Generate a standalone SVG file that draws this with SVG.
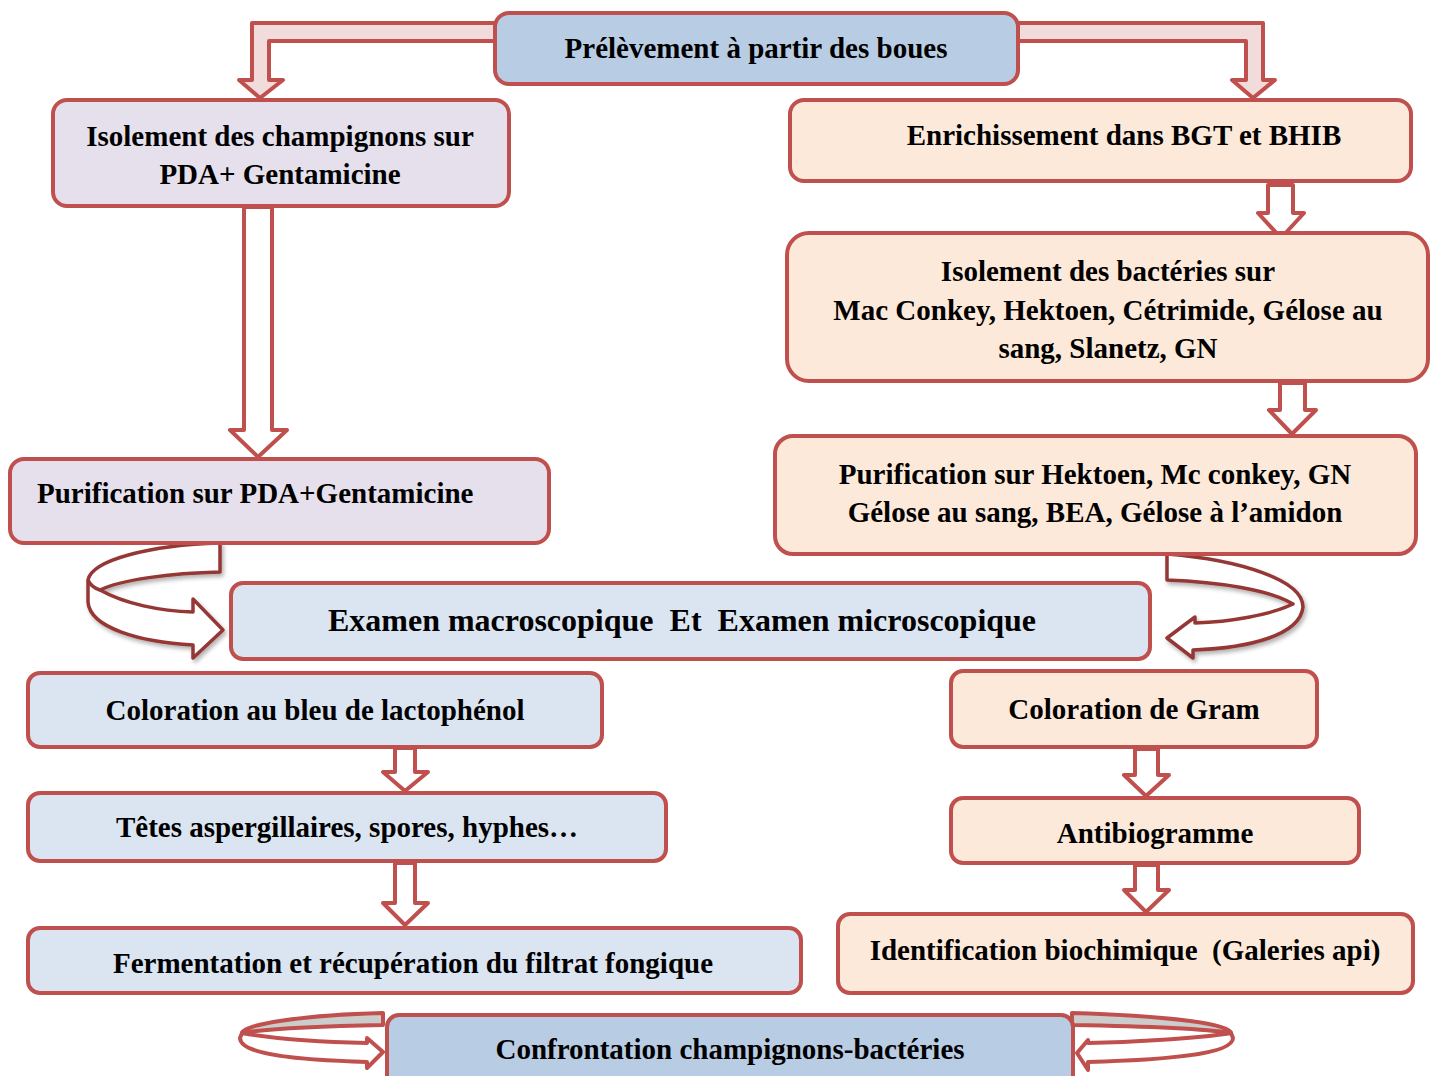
<svg xmlns="http://www.w3.org/2000/svg" width="1438" height="1076" viewBox="0 0 1438 1076">
<style>
.box{stroke:#c0504d;stroke-width:4}
.blue{fill:#b8cce4}
.lav{fill:#e5e0ec}
.peach{fill:#fde9d9}
.lblue{fill:#dbe5f1}
.t{font-family:"Liberation Serif","Times New Roman",serif;font-weight:bold;font-size:29px;fill:#000;text-anchor:middle;white-space:pre}
.arr{fill:#ffffff;stroke:#c0504d;stroke-width:4;stroke-linejoin:round}
.arrp{fill:#f2dcdb;stroke:#c0504d;stroke-width:4;stroke-linejoin:round}
.curv{fill:#ffffff;stroke:#953735;stroke-width:3.5;stroke-linejoin:round}
.grey{fill:#cccccc;stroke:#c0504d;stroke-width:4;stroke-linejoin:round}
</style>
<defs>
<filter id="sh" x="-20%" y="-20%" width="140%" height="140%">
<feDropShadow dx="2" dy="3" stdDeviation="2" flood-color="#000" flood-opacity="0.3"/>
</filter>
</defs>
<rect width="1438" height="1076" fill="#ffffff"/>
<g id="connectors">
<path class="arrp" d="M495,23 L252,23 L252,80 L239,80 L260,98 L283,80 L269,80 L269,41 L495,41 Z"/>
<path class="arrp" d="M1018,23 L1263,23 L1263,80 L1275,80 L1253,98 L1232,80 L1246,80 L1246,41 L1018,41 Z"/>
<path class="arr" d="M244,207 L272,207 L272,430 L287,430 L258,457 L230,430 L244,430 Z"/>
<path class="arr" d="M1268,185 L1293,185 L1293,213 L1304,213 L1281,238 L1258,213 L1268,213 Z"/>
<path class="arr" d="M1280,383 L1305,383 L1305,410 L1316,410 L1292,434 L1269,410 L1280,410 Z"/>
<path class="arr" d="M395,748 L415,748 L415,772 L428,772 L405,791 L383,772 L395,772 Z"/>
<path class="arr" d="M395,863 L415,863 L415,903 L428,903 L405,925 L383,903 L395,903 Z"/>
<path class="arr" d="M1135,749 L1158,749 L1158,775 L1169,775 L1146,796 L1124,775 L1135,775 Z"/>
<path class="arr" d="M1135,865 L1158,865 L1158,890 L1169,890 L1146,912 L1124,890 L1135,890 Z"/>
<g filter="url(#sh)">
<path class="curv" d="M220,543 L220,572 C170,573 120,580 100,590 C125,604 160,611 193,612 L193,599 L223,630 L193,658 L193,645 C140,642 90,628 88,602 L88,580 C92,560 150,545 220,543 Z"/>
<path class="curv" fill="none" d="M88,580 C90,585 94,588 100,590"/>
<path class="curv" d="M1167,554 L1167,580 C1220,582 1270,590 1293,604 C1270,615 1230,622 1195,623 L1195,617 L1167,638 L1193,658 L1193,650 C1250,648 1300,635 1303,607 C1303,580 1240,560 1167,554 Z"/>
</g>
<path class="grey" d="M383,1013 L383,1025 C330,1026 270,1028 242,1033 C242,1025 300,1015 383,1013 Z"/>
<path class="arr" d="M242,1033 C270,1038 320,1042 367,1043 L367,1038 L383,1052 L367,1068 L367,1062 C300,1060 240,1055 240,1038 Z"/>
<path class="grey" d="M1072,1013 L1072,1025 C1130,1026 1200,1028 1231,1033 C1231,1024 1170,1016 1072,1013 Z"/>
<path class="arr" d="M1231,1033 C1200,1038 1140,1042 1088,1043 L1088,1040 L1077,1053 L1088,1070 L1088,1062 C1160,1060 1233,1055 1233,1038 Z"/>
</g>
<g id="n1"><rect class="box blue" x="495" y="13" width="523" height="71" rx="14"/><text class="t" x="756" y="58">Prélèvement à partir des boues</text></g>
<g id="n2"><rect class="box lav" x="53" y="100" width="456" height="106" rx="14"/><text class="t" x="280" y="146">Isolement des champignons sur</text><text class="t" x="280" y="184">PDA+ Gentamicine</text></g>
<g id="n3"><rect class="box peach" x="790" y="100" width="621" height="81" rx="14"/><text class="t" x="1124" y="145">Enrichissement dans BGT et BHIB</text></g>
<g id="n4"><rect class="box peach" x="787" y="233" width="641" height="148" rx="22"/><text class="t" x="1108" y="281">Isolement des bactéries sur</text><text class="t" x="1108" y="320">Mac Conkey, Hektoen, Cétrimide, Gélose au</text><text class="t" x="1108" y="358">sang, Slanetz, GN</text></g>
<g id="n5"><rect class="box peach" x="775" y="436" width="641" height="118" rx="18"/><text class="t" x="1095" y="484">Purification sur Hektoen, Mc conkey, GN</text><text class="t" x="1095" y="522">Gélose au sang, BEA, Gélose à l’amidon</text></g>
<g id="n6"><rect class="box lav" x="10" y="459" width="539" height="84" rx="14"/><text class="t" x="37" y="503" style="text-anchor:start">Purification sur PDA+Gentamicine</text></g>
<g id="n7"><rect class="box lblue" x="231" y="583" width="919" height="76" rx="12"/><text class="t" x="682" y="631" style="font-size:32px">Examen macroscopique  Et  Examen microscopique</text></g>
<g id="n8"><rect class="box lblue" x="28" y="673" width="574" height="74" rx="12"/><text class="t" x="315" y="720">Coloration au bleu de lactophénol</text></g>
<g id="n9"><rect class="box peach" x="951" y="671" width="366" height="76" rx="12"/><text class="t" x="1134" y="719">Coloration de Gram</text></g>
<g id="n10"><rect class="box lblue" x="28" y="793" width="638" height="68" rx="12"/><text class="t" x="347" y="837">Têtes aspergillaires, spores, hyphes…</text></g>
<g id="n11"><rect class="box peach" x="951" y="798" width="408" height="65" rx="12"/><text class="t" x="1155" y="843">Antibiogramme</text></g>
<g id="n12"><rect class="box lblue" x="28" y="928" width="773" height="65" rx="12"/><text class="t" x="413" y="973">Fermentation et récupération du filtrat fongique</text></g>
<g id="n13"><rect class="box peach" x="838" y="914" width="575" height="79" rx="12"/><text class="t" x="1125" y="960">Identification biochimique  (Galeries api)</text></g>
<g id="n14"><rect class="box blue" x="387" y="1015" width="686" height="75" rx="12"/><text class="t" x="730" y="1059">Confrontation champignons-bactéries</text></g>
</svg>
